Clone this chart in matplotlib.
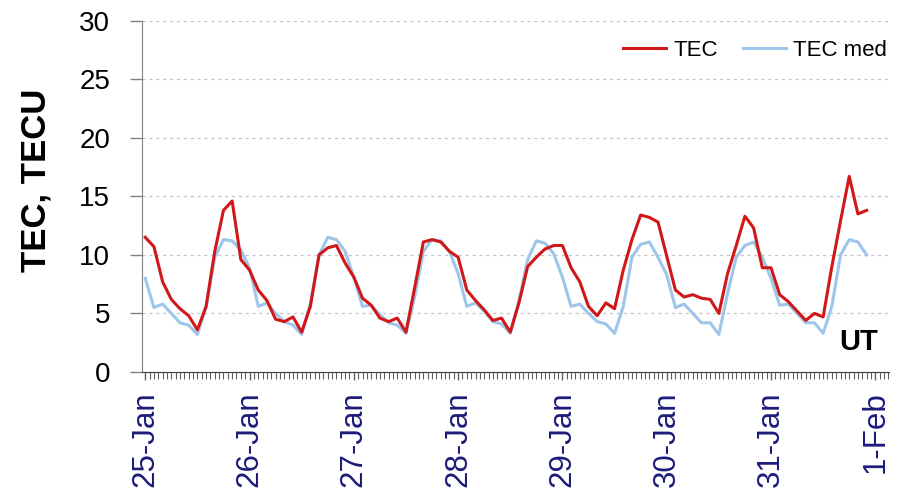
import numpy as np
import matplotlib
matplotlib.use("Agg")
import matplotlib.pyplot as plt
from matplotlib.ticker import MultipleLocator

# hours since 25-Jan 00:00 UT, every 2 hours
hours = list(range(0, 168, 2))

tec = [11.5, 10.7, 7.7, 6.2, 5.4, 4.8, 3.6, 5.6, 10.3, 13.8, 14.6, 9.6,
       8.7, 7.0, 6.1, 4.5, 4.3, 4.7, 3.4, 5.6, 10.0, 10.6, 10.8, 9.3,
       8.1, 6.3, 5.7, 4.6, 4.3, 4.6, 3.4, 7.2, 11.1, 11.3, 11.1, 10.3,
       9.8, 7.0, 6.1, 5.3, 4.4, 4.6, 3.4, 5.9, 9.0, 9.8, 10.5, 10.8,
       10.8, 8.9, 7.7, 5.6, 4.8, 5.9, 5.4, 8.7, 11.3, 13.4, 13.2, 12.8,
       9.9, 7.0, 6.4, 6.6, 6.3, 6.2, 5.0, 8.4, 10.8, 13.3, 12.3, 8.9,
       8.9, 6.6, 6.0, 5.2, 4.4, 5.0, 4.7, 9.0, 12.9, 16.7, 13.5, 13.8]

tec_med = [8.0, 5.5, 5.8, 5.0, 4.2, 4.0, 3.2, 5.5, 9.8, 11.3, 11.2, 10.4,
           8.9, 5.6, 5.9, 5.0, 4.3, 4.0, 3.2, 5.9, 10.0, 11.5, 11.3, 10.3,
           8.1, 5.6, 5.7, 4.9, 4.2, 4.0, 3.3, 6.4, 10.3, 11.3, 11.2, 10.3,
           8.4, 5.6, 5.9, 5.2, 4.3, 4.1, 3.3, 6.1, 9.6, 11.2, 11.0, 10.1,
           8.1, 5.6, 5.8, 5.0, 4.3, 4.1, 3.3, 5.6, 9.8, 10.9, 11.1, 9.8,
           8.3, 5.5, 5.8, 5.0, 4.2, 4.2, 3.2, 6.7, 9.8, 10.8, 11.1, 9.8,
           8.0, 5.7, 5.8, 5.0, 4.2, 4.2, 3.3, 5.6, 10.0, 11.3, 11.1, 10.0]

day_ticks = [0, 24, 48, 72, 96, 120, 144, 168]
day_labels = ["25-Jan", "26-Jan", "27-Jan", "28-Jan", "29-Jan", "30-Jan", "31-Jan", "1-Feb"]

plt.rcParams['font.family'] = ['Liberation Sans', 'DejaVu Sans']

fig = plt.figure(figsize=(9.0, 4.91), dpi=100)
ax = fig.add_axes([0.158, 0.2424, 0.830, 0.7156])

ax.plot(hours, tec, color="#D01818", lw=2.2, label="TEC", zorder=3)
ax.plot(hours, tec_med, color="#9DC6EA", lw=2.2, label="TEC med", zorder=2)

ax.set_xlim(-0.7, 171.2)
ax.set_ylim(0, 30)
ax.set_yticks(np.arange(0, 31, 5))
ax.tick_params(axis='y', labelsize=20, length=9, width=1, color="#808080", pad=14)
ax.set_xticks(day_ticks)
ax.set_xticklabels(day_labels, rotation=90, fontsize=22.5, color="#1B1B7A")
ax.xaxis.set_minor_locator(MultipleLocator(1))
ax.tick_params(axis='x', which='major', length=6, width=1, color="#606060", pad=8)
ax.tick_params(axis='x', which='minor', length=5, width=0.8, color="#606060")

ax.grid(axis='y', linestyle=(0, (2.5, 3)), color="#C4C4C4", lw=0.9)
ax.set_axisbelow(True)
for s in ["top", "right"]:
    ax.spines[s].set_visible(False)
ax.spines["left"].set_color("#808080")
ax.spines["bottom"].set_color("#404040")

ax.set_ylabel("TEC, TECU", fontsize=25, fontweight="bold")
ax.yaxis.set_label_coords(-0.120, 0.545)

ax.text(0.985, 0.045, "UT", transform=ax.transAxes, fontsize=21,
        fontweight="bold", ha="right", va="bottom")

leg = ax.legend(loc="upper right", ncol=2, frameon=False, fontsize=16,
                handlelength=1.95, columnspacing=1.15, handletextpad=0.3,
                borderaxespad=0.0, bbox_to_anchor=(1.009, 0.97))

fig.savefig("out.png", dpi=100)
